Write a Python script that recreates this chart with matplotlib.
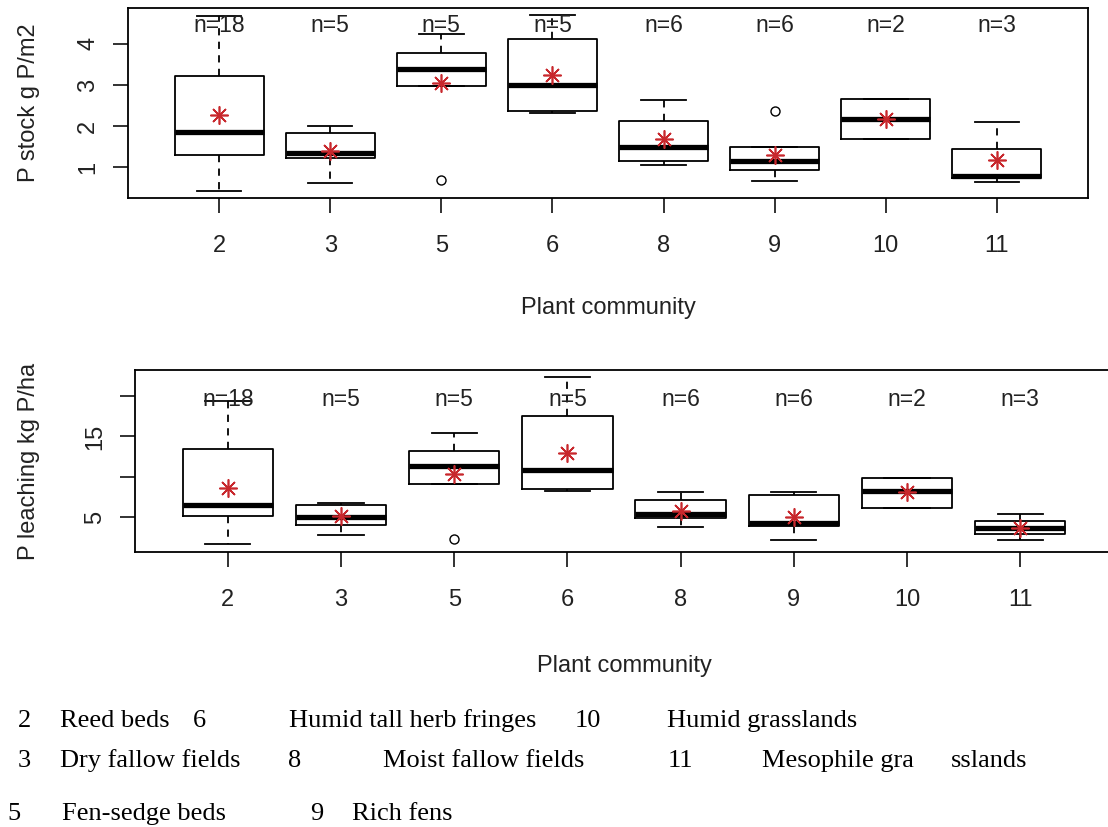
import matplotlib
matplotlib.use("Agg")
import matplotlib.pyplot as plt

plt.rcParams['font.family'] = ['Liberation Sans', 'DejaVu Sans']

# ------------------------------------------------------------------------------
# Data (box summary per plant community)
# ------------------------------------------------------------------------------
groups = ['2', '3', '5', '6', '8', '9', '10', '11']
n_obs = [18, 5, 5, 5, 6, 6, 2, 3]

# P stock g P/m2
stock_q1 = [1.30, 1.23, 2.97, 2.37, 1.15, 0.93, 1.68, 0.73]
stock_med = [1.87, 1.34, 3.39, 3.01, 1.50, 1.15, 2.18, 0.79]
stock_q3 = [3.22, 1.83, 3.77, 4.11, 2.13, 1.49, 2.67, 1.45]
stock_lo = [0.43, 0.63, 2.97, 2.31, 1.05, 0.66, 1.68, 0.65]
stock_hi = [4.68, 2.01, 4.23, 4.70, 2.63, 1.49, 2.67, 2.10]
stock_mean = [2.27, 1.40, 3.04, 3.24, 1.68, 1.30, 2.18, 1.19]
stock_out = [[], [], [0.69], [], [], [2.37], [], []]

# P leaching kg P/ha
leach_q1 = [5.2, 4.0, 9.1, 8.5, 4.95, 3.96, 6.2, 3.0]
leach_med = [6.56, 5.07, 11.3, 10.9, 5.37, 4.3, 8.2, 3.64]
leach_q3 = [13.47, 6.56, 13.2, 17.5, 7.1, 7.75, 9.9, 4.6]
leach_lo = [1.7, 2.8, 9.1, 8.2, 3.8, 2.24, 6.2, 2.24]
leach_hi = [19.4, 6.73, 15.4, 22.3, 8.1, 8.1, 9.9, 5.4]
leach_mean = [8.65, 5.2, 10.4, 13.0, 5.8, 5.07, 8.1, 3.7]
leach_out = [[], [], [2.3], [], [], [], [], []]

# legend text below the plots
legend_rows = [
    ['2', 'Reed beds', '6', 'Humid tall herb fringes', '10', 'Humid grasslands'],
    ['3', 'Dry fallow fields', '8', 'Moist fallow fields', '11', 'Mesophile gra', 'sslands'],
    ['5', 'Fen-sedge beds', '9', 'Rich fens'],
]
legend_x = [
    [18, 60, 193, 289, 575, 667],
    [18, 60, 288, 383, 668, 762, 951],
    [7, 62, 310, 352],
]
legend_y = [727, 767, 820]

W, H = 1108, 827
fig = plt.figure(figsize=(W / 100, H / 100), dpi=100)


def panel(px_box, q1, med, q3, lo, hi, mean, out, ylim, yticks, yticklabels,
          ylabel, ny, ylab_x, xlab_y):
    left, top, right, bottom = px_box
    ax = fig.add_axes([left / W, 1 - bottom / H, (right - left) / W, (bottom - top) / H])
    stats = []
    for i in range(len(groups)):
        stats.append(dict(label=groups[i], q1=q1[i], med=med[i], q3=q3[i],
                          whislo=lo[i], whishi=hi[i], mean=mean[i], fliers=out[i]))
    ax.bxp(stats, positions=range(1, len(groups) + 1), widths=0.8, capwidths=0.4,
           showmeans=True,
           boxprops=dict(color='black', lw=1.3),
           whiskerprops=dict(color='black', lw=1.3, ls=(0, (4, 3.5))),
           capprops=dict(color='black', lw=1.3),
           medianprops=dict(color='black', lw=3.8, solid_capstyle='butt'),
           meanprops=dict(marker=(8, 2, 0), markeredgecolor='#c8282d',
                          markerfacecolor='none', markersize=13, markeredgewidth=1.2),
           flierprops=dict(marker='o', markerfacecolor='none', markeredgecolor='black',
                           markersize=6.5, markeredgewidth=1))
    for i, n in enumerate(n_obs):
        ax.text(i + 1, ny, f"n={n}", ha='center', va='center', fontsize=16.5, color='#222222')
    ax.set_xlim(0.18, 8.82)
    ax.set_ylim(*ylim)
    ax.set_yticks(yticks)
    ax.set_yticklabels(yticklabels, rotation=90, va='center')
    ax.tick_params(direction='out', length=10.8, width=1.3, labelsize=17, colors='#222222')
    ax.tick_params(axis='x', pad=16)
    ax.tick_params(axis='y', pad=10)
    for s in ax.spines.values():
        s.set_linewidth(1.3)
    ax.set_ylabel(ylabel, fontsize=17, color='#222222')
    ax.yaxis.set_label_coords(ylab_x, 0.5)
    ax.set_xlabel('Plant community', fontsize=17, color='#222222')
    ax.xaxis.set_label_coords(0.5, xlab_y)
    return ax


panel((128, 8, 1088, 198), stock_q1, stock_med, stock_q3, stock_lo, stock_hi,
      stock_mean, stock_out, (0.255, 4.87), [1, 2, 3, 4], ['1', '2', '3', '4'],
      'P stock g P/m2', 4.45, -0.092, -0.521)

panel((135, 370, 1113, 552), leach_q1, leach_med, leach_q3, leach_lo, leach_hi,
      leach_mean, leach_out, (0.72, 23.2), [5, 10, 15, 20], ['5', '', '15', ''],
      'P leaching kg P/ha', 19.5, -0.097, -0.566)

for row, xs, y in zip(legend_rows, legend_x, legend_y):
    for txt, x in zip(row, xs):
        fig.text(x / W, 1 - y / H, txt, ha='left', va='baseline',
                 fontsize=19, family=['Liberation Serif', 'DejaVu Serif'])

fig.savefig('out.png', dpi=100)
